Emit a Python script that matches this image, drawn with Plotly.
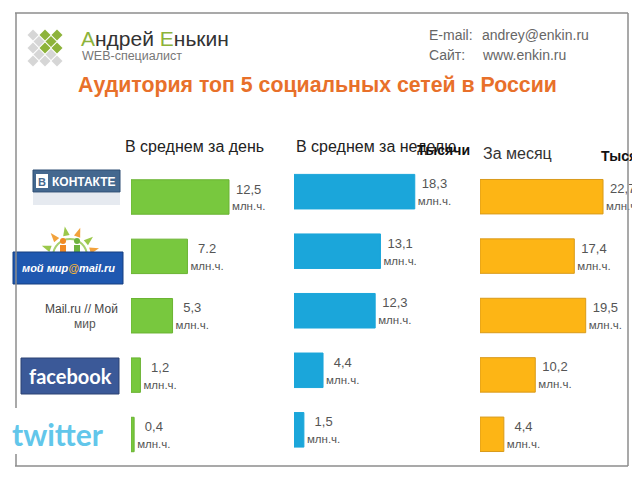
import math

import plotly.graph_objects as go

# ==== данные ====
networks = ["ВКонтакте", "Мой мир@mail.ru", "Mail.ru // Мой мир", "Facebook", "Twitter"]
daily = [12.5, 7.2, 5.3, 1.2, 0.4]
weekly = [18.3, 13.1, 12.3, 4.4, 1.5]
monthly = [22.7, 17.4, 19.5, 10.2, 4.4]
daily_labels = ["12,5", "7.2", "5,3", "1,2", "0,4"]
weekly_labels = ["18,3", "13,1", "12,3", "4,4", "1,5"]
monthly_labels = ["22,7", "17,4", "19,5", "10,2", "4,4"]
unit = "млн.ч."

# страница браузера сдвигает рисунок на 8 px (отступ body), поэтому фигура меньше окна
OFF = 8
W, H = 640 - OFF, 480 - 2 * OFF
FONT = "Liberation Sans, Arial, sans-serif"


def fx(x):
    return (x - OFF) / W


def fy(y):
    return 1 - (y - OFF) / H


# панели: (левый край px, px на единицу, ширина домена px, верх/низ домена px)
panels = [
    (131, 7.84, 140, 167.3, 464.2),
    (294, 6.6, 166, 161.9, 459.6),
    (480, 5.42, 140, 167.0, 464.0),
]
series = [
    (daily, daily_labels, "#78C83E", "#6AB332"),
    (weekly, weekly_labels, "#1BA6DA", "#1BA6DA"),
    (monthly, monthly_labels, "#FDB515", "#D99A1A"),
]

fig = go.Figure()
for i, ((vals, labels, fill, edge), (x0, ppu, dw, ytop, ybot)) in enumerate(zip(series, panels), start=1):
    suffix = "" if i == 1 else str(i)
    fig.add_trace(
        go.Bar(
            y=networks,
            x=vals,
            orientation="h",
            width=0.58,
            marker=dict(color=fill, line=dict(color=edge, width=1)),
            text=[f"{t}<br><span style='font-size:11.5px'>{unit}</span>" for t in labels],
            textposition="outside",
            constraintext="none",
            cliponaxis=False,
            textfont=dict(family=FONT, size=13, color="#555555"),
            xaxis="x" + suffix,
            yaxis="y" + suffix,
            hoverinfo="skip",
            showlegend=False,
        )
    )
    fig.layout["xaxis" + suffix] = dict(
        domain=[fx(x0), fx(x0 + dw)], range=[0, dw / ppu], visible=False, anchor="y" + suffix
    )
    fig.layout["yaxis" + suffix] = dict(
        domain=[fy(ybot), fy(ytop)],
        range=[4.5, -0.5],
        visible=False,
        anchor="x" + suffix,
        categoryorder="array",
        categoryarray=networks,
    )

shapes = []
ann = []


def text(x, y, s, size, color="#222222", anchor="left", bold=False, bg=None, family=FONT):
    if bold:
        s = f"<b>{s}</b>"
    a = dict(
        x=fx(x), y=fy(y), xref="paper", yref="paper", text=s, showarrow=False,
        xanchor=anchor, yanchor="middle",
        font=dict(family=family, size=size, color=color),
    )
    if bg:
        a["bgcolor"] = bg
    ann.append(a)


def rect(x0, y0, x1, y1, fill, line=None, layer="below"):
    shapes.append(dict(
        type="rect", xref="paper", yref="paper",
        x0=fx(x0), x1=fx(x1), y0=fy(y1), y1=fy(y0),
        fillcolor=fill, line=dict(width=1 if line else 0, color=line or fill), layer=layer,
    ))


def poly(points, fill):
    path = "M " + " L ".join(f"{fx(x)} {fy(y)}" for x, y in points) + " Z"
    shapes.append(dict(type="path", xref="paper", yref="paper", path=path,
                       fillcolor=fill, line=dict(width=0), layer="below"))


def circle(cx, cy, r, fill="rgba(0,0,0,0)", edge=None, width=0):
    shapes.append(dict(type="circle", xref="paper", yref="paper",
                       x0=fx(cx - r), x1=fx(cx + r), y0=fy(cy + r), y1=fy(cy - r),
                       fillcolor=fill, line=dict(color=edge or fill, width=width), layer="below"))


def line(x0, y0, x1, y1, color="#8C8C8C", width=1.5):
    shapes.append(dict(
        type="line", xref="paper", yref="paper",
        x0=fx(x0), x1=fx(x1), y0=fy(y0), y1=fy(y1),
        line=dict(color=color, width=width), layer="above",
    ))


# рамка слайда
line(15, 13, 628, 13)
line(628, 13, 628, 466)
line(15, 466, 628, 466)
line(16, 13, 16, 408)
line(16, 454, 16, 466)

# ромбы логотипа
G, S = "#8DB33A", "#D6D6D6"
rows = [
    (35, [33, 45, 57], [S, G, G]),
    (41.5, [39, 51], [S, G]),
    (48, [33, 45, 57], [S, G, G]),
    (54.5, [39, 51], [S, S]),
    (61, [33, 45, 57], [S, S, S]),
]
for cy, xs, cols in rows:
    for cx, c in zip(xs, cols):
        r = 5.5
        poly([(cx, cy - r), (cx + r, cy), (cx, cy + r), (cx - r, cy)], c)

# шапка
text(79, 39, "<span style='color:#8DB33A'>А</span>ндрей "
             "<span style='color:#8DB33A'>Е</span>нькин", 21, "#333333")
text(80, 56, "WEB-специалист", 12.5, "#777777")
text(427, 35, "E-mail:", 14, "#666666")
text(480, 35, "andrey@enkin.ru", 14, "#666666")
text(427, 55, "Сайт:", 14, "#666666")
text(480, 55, "www.enkin.ru", 14, "#666666")
text(76, 85, "Аудитория топ 5 социальных сетей в России", 21.3, "#E8702A", bold=True)

# заголовки панелей
text(123, 147, "В среднем за день", 16, "#222222")
text(294, 146, "В среднем за неделю", 16, "#222222")
text(415, 150, "Тысячи", 14, "#111111", bold=True)
text(481, 153, "За месяц", 16, "#333333")
text(599, 156, "Тысячи", 14, "#111111", bold=True)

# логотип ВКонтакте
rect(33, 193, 120, 205, "#E6EAF0")
rect(33, 170, 120, 192, "#44688F", "#2F4F75")
rect(36, 174, 48, 188, "#FFFFFF")
text(42, 181.5, "В", 11, "#44688F", anchor="center", bold=True)
text(84, 181.5, "КОНТАКТЕ", 12, "#FFFFFF", anchor="center", bold=True)

# логотип Мой мир: солнце с лучами и двумя человечками
scx, scy = 70, 256
for k, ang in enumerate([160, 130, 100, 70, 40, 15]):
    a = math.radians(ang)
    w = math.radians(9)
    col = "#9BC84A" if k % 2 == 0 else "#F2A23C"
    poly([(scx + 21 * math.cos(a - w), scy - 21 * math.sin(a - w)),
          (scx + 30 * math.cos(a), scy - 30 * math.sin(a)),
          (scx + 21 * math.cos(a + w), scy - 21 * math.sin(a + w))], col)
circle(scx, scy, 17, edge="#A8D070", width=2)
circle(63, 241, 3, "#F08A24")
rect(60, 245, 66, 253, "#F08A24")
circle(77, 241, 3, "#6DB33F")
rect(74, 245, 80, 253, "#6DB33F")
rect(13, 252, 123, 284, "#1F58B0", "#173F80")
text(68, 268, "<i>мой мир<span style='color:#F3B53A'>@</span>mail.ru</i>", 11, "#FFFFFF",
     anchor="center", bold=True)

# Mail.ru // Мой мир
text(81, 309, "Mail.ru // Мой", 12, "#444444", anchor="center")
text(85, 324, "мир", 12, "#555555", anchor="center")

# логотип Facebook
rect(21, 358, 119, 394, "#3B5998", "#2D4373")
text(70, 376, "facebook", 20, "#FFFFFF", anchor="center", bold=True,
     family="Lato, Liberation Sans, sans-serif")

# логотип Twitter
text(58, 434, "twitter", 30, "#62C6EA", anchor="center", bold=True, bg="#FFFFFF",
     family="Lato, Liberation Sans, sans-serif")

fig.update_layout(
    width=W, height=H,
    margin=dict(l=0, r=0, t=0, b=0),
    paper_bgcolor="#FFFFFF",
    plot_bgcolor="rgba(0,0,0,0)",
    shapes=shapes,
    annotations=ann,
)

fig.write_html("out.html")
